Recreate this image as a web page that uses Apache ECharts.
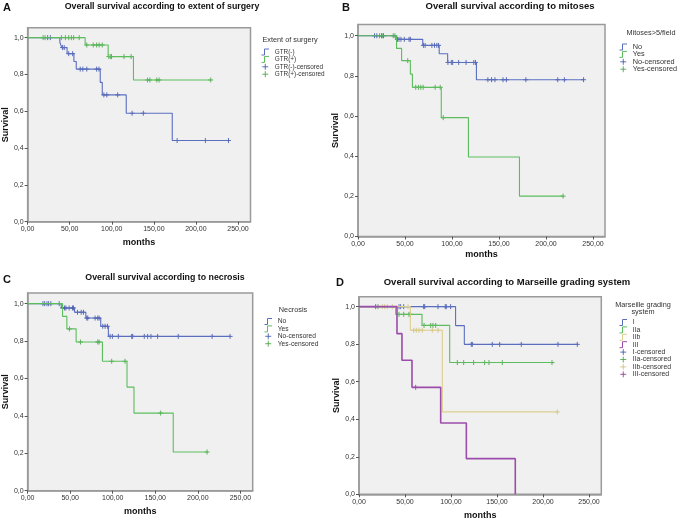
<!DOCTYPE html>
<html><head><meta charset="utf-8">
<script src="https://cdn.jsdelivr.net/npm/echarts@6/dist/echarts.min.js"></script>
<style>html,body{margin:0;padding:0;background:#fff}#c{width:683px;height:521px}</style>
</head><body><div id="c"></div>
<script>
// ---- tick labels ----
const monthTicks = [0, 50, 100, 150, 200, 250];
const survivalTicks = [0, 0.2, 0.4, 0.6, 0.8, 1.0];

// ---- Panel A: extent of surgery ----
const gtrMinusSteps = [[0,1],[38.3,0.975],[40.6,0.946],[46.9,0.913],[55,0.870],[57.8,0.829],[86.3,0.757],[88.7,0.689],[117.2,0.589],[171.9,0.441],[238.7,0.441]];
const gtrMinusCensored = [[23.8,1],[27,1],[41.5,0.946],[43.5,0.946],[48.8,0.913],[53.5,0.913],[62.5,0.829],[65.6,0.829],[70.3,0.829],[82,0.829],[84.8,0.829],[90.6,0.689],[94.1,0.689],[107,0.689],[124.2,0.589],[137.5,0.589],[177.7,0.441],[211.3,0.441],[238.7,0.441]];
const gtrPlusSteps = [[0,1],[68.4,0.96],[95.7,0.897],[125.8,0.77],[217.6,0.77]];
const gtrPlusCensored = [[18.4,1],[20.7,1],[40.2,1],[44.9,1],[48.8,1],[52,1],[54.7,1],[61.3,1],[70.3,0.96],[78,0.96],[82,0.96],[85,0.96],[88.7,0.96],[96.5,0.897],[98.8,0.897],[99.6,0.897],[114.5,0.897],[123,0.897],[142.6,0.77],[145.3,0.77],[153.5,0.77],[156.3,0.77],[217.6,0.77]];

// ---- Panel B: mitoses ----
const mitNoSteps = [[0,1],[40.4,0.982],[68.9,0.952],[86.4,0.910],[95.4,0.867],[126,0.781],[240,0.781]];
const mitNoCensored = [[17.6,1],[20,1],[25,1],[27.1,1],[42,0.982],[43.6,0.982],[45.7,0.982],[49.3,0.982],[54.3,0.982],[55.7,0.982],[69.6,0.952],[71.4,0.952],[78.6,0.952],[81.4,0.952],[83.9,0.952],[85.7,0.952],[95.7,0.867],[99.3,0.867],[100.7,0.867],[107.1,0.867],[115,0.867],[123.2,0.867],[125,0.867],[138.2,0.781],[142.1,0.781],[145.7,0.781],[154.3,0.781],[157.9,0.781],[178.6,0.781],[212.5,0.781],[219.6,0.781],[240,0.781]];
const mitYesSteps = [[0,1],[41,0.937],[46.4,0.876],[55.7,0.809],[57.9,0.743],[88.6,0.592],[117.5,0.396],[171.8,0.201],[218.2,0.201]];
const mitYesCensored = [[22.9,1],[26.4,1],[37.5,1],[39.3,1],[52.9,0.876],[61.4,0.743],[64.3,0.743],[66.8,0.743],[69.3,0.743],[82.1,0.743],[87.5,0.743],[90.7,0.592],[218.2,0.201]];

// ---- Panel C: necrosis ----
const necNoSteps = [[0,1],[39.5,0.977],[55.1,0.954],[68.4,0.923],[85.9,0.879],[94.9,0.825],[237.9,0.825]];
const necNoCensored = [[18,1],[20,1],[22.7,1],[24.6,1],[27.3,1],[37.1,1],[41,0.977],[43.4,0.977],[44.9,0.977],[48.8,0.977],[52.7,0.977],[53.9,0.977],[58.6,0.954],[62.9,0.954],[65.6,0.954],[69.5,0.923],[70.7,0.923],[79.3,0.923],[82.4,0.923],[84,0.923],[88.3,0.879],[91,0.879],[93.8,0.879],[96.9,0.825],[99.6,0.825],[106.6,0.825],[122.3,0.825],[123.4,0.825],[137.1,0.825],[141,0.825],[144.9,0.825],[152.7,0.825],[177,0.825],[216.8,0.825],[237.9,0.825]];
const necYesSteps = [[0,1],[41,0.932],[46.1,0.865],[57,0.795],[87.9,0.692],[116.8,0.554],[125,0.415],[171.1,0.207],[210.9,0.207]];
const necYesCensored = [[49.2,0.865],[62.1,0.795],[82.4,0.795],[84,0.795],[98.8,0.692],[114.5,0.692],[156.3,0.415],[210.9,0.207]];

// ---- Panel D: Marseille grading system ----
const gradeISteps = [[0,1],[105,0.899],[114.5,0.799],[237.3,0.799]];
const gradeICensored = [[18.1,1],[43.5,1],[45.3,1],[48.6,1],[70.3,1],[71.4,1],[85.9,1],[93.8,1],[94.9,1],[99.6,1],[122.1,0.799],[123.2,0.799],[144.9,0.799],[152.9,0.799],[176.4,0.799],[216.3,0.799],[237.3,0.799]];
const gradeIIaSteps = [[0,1],[39.9,0.959],[68.5,0.90],[98.6,0.702],[209.8,0.702]];
const gradeIIaCensored = [[20.7,1],[43.5,0.959],[48.6,0.959],[54.3,0.959],[55.8,0.959],[70.7,0.90],[77.9,0.90],[80.4,0.90],[83.3,0.90],[106.9,0.702],[113.8,0.702],[124.6,0.702],[136.6,0.702],[141.3,0.702],[155.8,0.702],[209.8,0.702]];
const gradeIIbSteps = [[0,1],[55.8,0.874],[90.6,0.439],[215.6,0.439]];
const gradeIIbCensored = [[25.4,1],[27.9,1],[30.8,1],[36.2,1],[53.3,1],[59.4,0.874],[62.3,0.874],[65.2,0.874],[68.8,0.874],[79.7,0.874],[85.9,0.874],[215.6,0.439]];
const gradeIIISteps = [[0,1],[41.3,0.856],[46.7,0.714],[57.6,0.570],[88.8,0.380],[116.7,0.190],[169.9,0]];
const gradeIIICensored = [[61.6,0.570]];

// ---- styling ----
const FONT = 'Arial, "Liberation Sans", sans-serif';
const BLUE = '#5a6ec0', BLUE_D = '#3a4fa6';
const GREEN = '#5cbd5c', GREEN_D = '#3c9f3c';
const TAN = '#dccf90', TAN_D = '#cfbe70';
const PURPLE = '#9c4caa', PURPLE_D = '#86338f';
const plusPath = 'path://M5,0 L5,10 M0,5 L10,5';
const stepIcon = 'path://M0,9 L4,9 L4,1 L10,1';

const grids = [
  {left: 24.5, top: 27.7, width: 226, height: 194, xMax: 264.9, yMax: 1.054, yGap: 14, xGap: 16},
  {left: 358, top: 24.5, width: 247, height: 212, xMax: 262.8, yMax: 1.056, yGap: 10, xGap: 14},
  {left: 27, top: 293, width: 225.7, height: 197.7, xMax: 264.5, yMax: 1.057, yGap: 10.5, xGap: 16.5},
  {left: 359, top: 296.7, width: 242.3, height: 197.6, xMax: 263.4, yMax: 1.053, yGap: 12, xGap: 16.5}
];

const near = (arr, v) => arr.some(t => Math.abs(t - v) < 1e-6);

const option = {
  animation: false,
  backgroundColor: '#fff',
  textStyle: {fontFamily: FONT},
  title: [
    {text: 'A', left: 3, top: 2},
    {text: 'B', left: 342, top: 2},
    {text: 'C', left: 3, top: 274},
    {text: 'D', left: 336, top: 277},
  ].map(t => Object.assign(t, {padding: 0, textStyle: {fontSize: 11, fontWeight: 'bold', color: '#111', fontFamily: FONT}})).concat([
    {text: 'Overall survival according to extent of surgery', left: 162, top: 2.5, fs: 8.8},
    {text: 'Overall survival according to mitoses', left: 510, top: 1, fs: 9.5},
    {text: 'Overall survival according to necrosis', left: 165, top: 273, fs: 8.8},
    {text: 'Overall survival according to Marseille grading system', left: 507, top: 277, fs: 9.5},
  ].map(t => Object.assign(t, {padding: 0, textAlign: 'center', textStyle: {fontSize: t.fs, fontWeight: 'bold', color: '#111', fontFamily: FONT}}))).concat([
    {text: 'Extent of surgery', left: 290, top: 36.5},
    {text: 'Mitoses>5/field', left: 651, top: 29.5},
    {text: 'Necrosis', left: 293, top: 306.5},
    {text: 'Marseille grading\nsystem', left: 643, top: 301},
  ].map(t => Object.assign(t, {padding: 0, textAlign: 'center', textStyle: {fontSize: 7.3, fontWeight: 'normal', color: '#333', lineHeight: 7.5, fontFamily: FONT}}))),
  grid: grids.map(g => ({left: g.left, top: g.top, width: g.width, height: g.height, show: true, backgroundColor: '#f0f0f0', borderColor: '#9a9a9a', borderWidth: 1.5, containLabel: false})),
  xAxis: grids.map((g, i) => ({
    type: 'value', gridIndex: i, min: 0, max: g.xMax, interval: 50,
    name: 'months', nameLocation: 'middle', nameGap: g.xGap,
    nameTextStyle: {fontSize: 9, fontWeight: 'bold', color: '#111', fontFamily: FONT},
    axisLine: {show: true, lineStyle: {color: '#9a9a9a', width: 1.5}},
    axisTick: {show: true, length: 3, lineStyle: {color: '#555'}},
    splitLine: {show: false},
    axisLabel: {fontSize: 7, color: '#333', margin: 4, showMaxLabel: false, fontFamily: FONT,
      formatter: v => near(monthTicks, v) ? v.toFixed(2).replace('.', ',') : ''}
  })),
  yAxis: grids.map((g, i) => ({
    type: 'value', gridIndex: i, min: 0, max: g.yMax, interval: 0.2,
    name: 'Survival', nameLocation: 'middle', nameGap: g.yGap,
    nameTextStyle: {fontSize: 9, fontWeight: 'bold', color: '#111', fontFamily: FONT},
    axisLine: {show: true, lineStyle: {color: '#9a9a9a', width: 1.5}},
    axisTick: {show: true, length: 3, lineStyle: {color: '#555'}},
    splitLine: {show: false},
    axisLabel: {fontSize: 7, color: '#333', margin: 4, showMaxLabel: false, fontFamily: FONT,
      formatter: v => near(survivalTicks, v) ? v.toFixed(1).replace('.', ',') : ''}
  })),
  legend: [],
  series: []
};

function stepSeries(name, idx, data, color, width) {
  return {name, type: 'line', xAxisIndex: idx, yAxisIndex: idx, step: 'end', data,
    symbol: 'none', showSymbol: false, silent: true,
    lineStyle: {color, width: width || 1.1}, itemStyle: {color}};
}
function censorSeries(name, idx, data, color) {
  return {name, type: 'scatter', xAxisIndex: idx, yAxisIndex: idx, data, symbol: plusPath, symbolSize: 5, silent: true,
    itemStyle: {color: 'rgba(0,0,0,0)', borderColor: color, borderWidth: 1}};
}
function legendBlock(left, top, fontSize, items) {
  return {left, top, orient: 'vertical', padding: 0, itemWidth: 9, itemHeight: 6, itemGap: 0.4,
    selectedMode: false,
    textStyle: {fontSize, lineHeight: 7, color: '#333', fontFamily: FONT},
    data: items.map(([name, color, isStep]) => ({name, icon: isStep ? stepIcon : plusPath,
      itemStyle: {color: 'rgba(0,0,0,0)', borderColor: color, borderWidth: 1}}))};
}

option.series.push(
  stepSeries('GTR(-)', 0, gtrMinusSteps, BLUE), stepSeries('GTR(+)', 0, gtrPlusSteps, GREEN),
  censorSeries('GTR(-)-censored', 0, gtrMinusCensored, BLUE_D), censorSeries('GTR(+)-censored', 0, gtrPlusCensored, GREEN_D),
  stepSeries('No', 1, mitNoSteps, BLUE), stepSeries('Yes', 1, mitYesSteps, GREEN),
  censorSeries('No-censored', 1, mitNoCensored, BLUE_D), censorSeries('Yes-censored', 1, mitYesCensored, GREEN_D),
  stepSeries('No', 2, necNoSteps, BLUE), stepSeries('Yes', 2, necYesSteps, GREEN),
  censorSeries('No-censored', 2, necNoCensored, BLUE_D), censorSeries('Yes-censored', 2, necYesCensored, GREEN_D),
  stepSeries('I', 3, gradeISteps, BLUE), stepSeries('IIa', 3, gradeIIaSteps, GREEN),
  stepSeries('IIb', 3, gradeIIbSteps, TAN), stepSeries('III', 3, gradeIIISteps, PURPLE, 1.6),
  censorSeries('I-censored', 3, gradeICensored, BLUE_D), censorSeries('IIa-censored', 3, gradeIIaCensored, GREEN_D),
  censorSeries('IIb-censored', 3, gradeIIbCensored, TAN_D), censorSeries('III-censored', 3, gradeIIICensored, PURPLE_D)
);

option.legend = [
  legendBlock(261, 48.5, 6.4, [['GTR(-)', BLUE, 1], ['GTR(+)', GREEN, 1], ['GTR(-)-censored', BLUE_D, 0], ['GTR(+)-censored', GREEN_D, 0]]),
  legendBlock(619, 43.5, 7.3, [['No', BLUE, 1], ['Yes', GREEN, 1], ['No-censored', BLUE_D, 0], ['Yes-censored', GREEN_D, 0]]),
  legendBlock(264, 318, 6.7, [['No', BLUE, 1], ['Yes', GREEN, 1], ['No-censored', BLUE_D, 0], ['Yes-censored', GREEN_D, 0]]),
  legendBlock(619, 319, 6.9, [['I', BLUE, 1], ['IIa', GREEN, 1], ['IIb', TAN, 1], ['III', PURPLE, 1],
    ['I-censored', BLUE_D, 0], ['IIa-censored', GREEN_D, 0], ['IIb-censored', TAN_D, 0], ['III-censored', PURPLE_D, 0]])
];

const chart = echarts.init(document.getElementById('c'), null, {renderer: 'canvas'});
chart.setOption(option);
</script>
</body></html>
